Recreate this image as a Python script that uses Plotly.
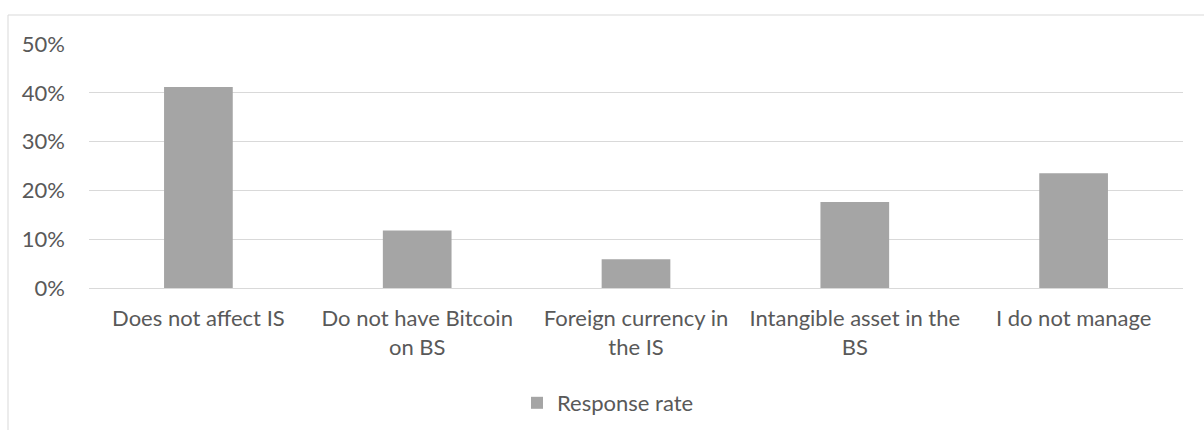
import plotly.graph_objects as go

# Survey answers and share of respondents per answer
categories = [
    "Does not affect IS",
    "Do not have Bitcoin<br>on BS",
    "Foreign currency in<br>the IS",
    "Intangible asset in the<br>BS",
    "I do not manage",
]
response_rate = [0.412, 0.118, 0.059, 0.176, 0.235]
series_name = "Response rate"
y_ticks = [0.0, 0.1, 0.2, 0.3, 0.4, 0.5]

W, H = 1204, 430
L, R, T, B = 89, 21, 44, 142
plot_w = W - L - R
plot_h = H - T - B

TEXT = "#595959"
GRID = "#d9d9d9"
BAR = "#a5a5a5"
FONT = "Lato"

fig = go.Figure(
    go.Bar(
        x=categories,
        y=response_rate,
        name=series_name,
        marker=dict(color=BAR, line=dict(width=0)),
        showlegend=True,
    )
)

# light frame around the chart area
fig.add_shape(
    type="rect",
    xref="paper", yref="paper",
    x0=(8 - L) / plot_w, x1=1.3,
    y0=-1.0, y1=(H - B - 15) / plot_h,
    line=dict(color=GRID, width=1),
    fillcolor="rgba(0,0,0,0)",
    layer="below",
)

fig.update_layout(
    width=W, height=H,
    margin=dict(l=L, r=R, t=T, b=B, pad=0, autoexpand=False),
    paper_bgcolor="white",
    plot_bgcolor="white",
    bargap=0.686,
    font=dict(family=FONT, size=22, color=TEXT),
    showlegend=True,
    legend=dict(
        orientation="h",
        x=(608 - L) / plot_w, xanchor="center",
        y=(H - B - 403) / plot_h, yanchor="middle",
        itemwidth=30,
        font=dict(family=FONT, size=22, color=TEXT),
        bgcolor="rgba(0,0,0,0)",
    ),
    xaxis=dict(
        type="category",
        showgrid=False,
        showline=False,
        ticks="",
        tickangle=0,
        ticklabelstandoff=15,
        automargin=False,
        tickfont=dict(family=FONT, size=22, color=TEXT),
    ),
    yaxis=dict(
        range=[0, 0.5],
        tickvals=y_ticks,
        tickformat=".0%",
        showgrid=True,
        gridcolor=GRID,
        gridwidth=1.3,
        zeroline=True,
        zerolinecolor=GRID,
        zerolinewidth=1.3,
        showline=False,
        ticks="",
        ticklabelstandoff=23,
        automargin=False,
        tickfont=dict(family=FONT, size=22, color=TEXT),
    ),
)

fig.write_html("out.html")
